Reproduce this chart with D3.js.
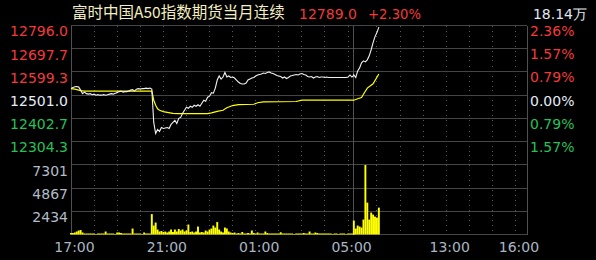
<!DOCTYPE html>
<html><head><meta charset="utf-8">
<script src="https://cdn.jsdelivr.net/npm/d3@7/dist/d3.min.js"></script>
<style>html,body{margin:0;padding:0;background:#000;}svg{display:block;}</style>
</head><body>
<svg id="chart" width="596" height="260"></svg>
<script>
// ---------------- data ----------------
const titleText = "富时中国A50指数期货当月连续";
const lastPrice = "12789.0";
const lastChange = "+2.30%";
const totalVolume = "18.14万";
const prevClose = 12501.0;

const priceTicks = [12796.0, 12697.7, 12599.3, 12501.0, 12402.7, 12304.3];
const priceFloor = 12206.0;
const pctTicks = ["2.36%", "1.57%", "0.79%", "0.00%", "0.79%", "1.57%"];
const volumeTicks = [7301, 4867, 2434];
const volumeMax = 7301;
const timeLabels = ["17:00", "21:00", "01:00", "05:00", "13:00", "16:00"];
const gridHours = ["18:00","19:00","20:00","21:00","22:00","23:00","00:00","01:00","02:00","03:00","04:00","05:00",
                   "10:00","11:00","12:00","13:00","14:00","15:00","16:00"];
const sessionBreak = "05:15";

// 5-minute samples, night session from 17:00, day session from 09:00
const nightPrices = [
12528.8,12533.1,12536.5,12537.3,12535.2,12522.4,12507.4,12513.8,12507.4,12505.3,
12507.4,12503.1,12505.3,12501.0,12503.1,12501.0,12501.0,12503.1,12501.0,12503.1,
12505.3,12507.4,12505.3,12509.5,12511.7,12516.0,12518.1,12513.8,12516.0,12516.0,
12518.1,12522.4,12524.5,12518.1,12526.6,12528.8,12526.6,12528.8,12528.8,12530.9,
12528.8,12530.9,12526.6,12385.6,12338.6,12355.7,12347.1,12364.2,12360.0,12362.1,
12364.2,12360.0,12377.1,12385.6,12394.1,12381.3,12402.7,12407.0,12424.1,12436.9,
12449.7,12445.4,12454.0,12449.7,12458.3,12454.0,12460.4,12454.0,12466.8,12479.6,
12475.4,12492.5,12496.7,12511.7,12509.5,12530.9,12565.1,12582.2,12569.4,12577.9,
12597.2,12577.9,12582.2,12575.8,12577.9,12573.7,12565.1,12556.6,12550.2,12548.0,
12548.0,12552.3,12565.1,12569.4,12573.7,12575.8,12582.2,12586.5,12588.6,12590.8,
12595.0,12592.9,12597.2,12599.3,12595.0,12592.9,12588.6,12584.3,12582.2,12580.1,
12573.7,12577.9,12571.5,12575.8,12582.2,12584.3,12586.5,12588.6,12586.5,12590.8,
12592.9,12588.6,12586.5,12580.1,12577.9,12580.1,12573.7,12577.9,12580.1,12575.8,
12577.9,12577.9,12575.8,12577.9,12575.8,12575.8,12575.8,12575.8,12575.8,12575.8,
12575.8,12575.8,12575.8,12575.8,12577.9,12586.5,12577.9,12584.3
];
const dayPrices = [
12586.5,12575.8,12603.6,12616.4,12637.8,12646.3,12642.0,12650.6,12667.7,12693.3,
12723.2,12748.9,12766.0,12789.0
];
const nightVolumes = [
156,156,209,313,417,469,209,104,104,104,
104,104,104,52,104,104,104,104,313,104,
104,104,104,52,209,209,156,104,104,104,
104,104,626,104,104,104,104,52,209,104,
104,104,2138,939,1252,522,313,365,261,313,
209,313,522,261,522,313,574,417,522,313,
417,1043,261,313,209,313,834,209,261,209,
417,313,522,626,939,730,1304,522,313,209,
730,626,313,209,156,209,104,156,104,261,
104,104,156,104,417,156,104,209,104,104,
104,313,156,104,104,104,104,104,104,235,
104,104,104,104,104,104,52,104,104,104,
104,156,104,104,313,104,104,209,156,104,
104,104,104,104,104,104,52,104,104,52,
104,104,104,52,104,104,104,104
];
const dayVolumes = [1460,626,939,834,730,1565,7280,3338,1565,2295,2086,1877,1773,2816];

const avgTimes = ["17:00","17:10","17:25","17:35","20:30","20:35","20:40","20:45","20:50","21:00",
                  "21:10","21:25","21:40","22:55","23:05","23:20","23:35","23:45","00:00","00:15",
                  "00:55","01:05","01:20","02:45","03:00","05:15","09:00","09:10","09:20","09:25",
                  "09:35","09:50","10:05"];
const avgPrices = [12528.8,12526.6,12520.2,12518.1,12518.1,12479.6,12458.3,12443.3,12436.9,12431.3,
                   12428.3,12424.1,12422.8,12422.8,12426.2,12432.6,12436.9,12447.6,12457.0,12461.0,
                   12462.5,12469.0,12472.4,12474.1,12479.6,12479.6,12479.6,12486.0,12491.0,12505.0,
                   12530.9,12549.0,12590.8];

(function () {
// ---------------- helpers ----------------
const NIGHT_LEN = 735, TOTAL_LEN = 1185, STEP = 5;
function sessionMinute(t) {
  const [h, m] = t.split(":").map(Number);
  if (h >= 17) return (h - 17) * 60 + m;
  if (h < 6) return (h + 7) * 60 + m;
  return NIGHT_LEN + (h - 9) * 60 + m;
}

const night = nightPrices.map((p, i) => ({m: i * STEP, p, v: nightVolumes[i]}));
const day = dayPrices.map((p, j) => ({m: NIGHT_LEN + j * STEP, p, v: dayVolumes[j]}));
const series = night.concat(day);
const avgSeries = avgTimes.map((t, i) => ({m: sessionMinute(t), p: avgPrices[i]}));

// ---------------- layout ----------------
const PL = 71, PR = 527, PT = 25.5, PB = 234.5;
const priceBottom = PT + (PB - PT) * 6 / 9;

const svg = d3.select("#chart");
svg.append("rect").attr("width", 596).attr("height", 260).attr("fill", "#000");

const x = d3.scaleLinear().domain([0, TOTAL_LEN]).range([PL, PR]);
const y = d3.scaleLinear().domain([priceFloor, priceTicks[0]]).range([priceBottom, PT]);
const yv = d3.scaleLinear().domain([0, volumeMax]).range([PB, priceBottom]);
const crisp = v => Math.floor(v) + 0.5;

const RED = "#f23a3a", GREEN = "#25c25a", WHITE = "#e4ecf6", GREY = "#b2bdc8";
const gridColor = "#454545";

// vertical dotted grid
const g = svg.append("g");
g.selectAll("line.vd").data(gridHours).enter().append("line")
  .attr("x1", d => crisp(x(sessionMinute(d)))).attr("x2", d => crisp(x(sessionMinute(d))))
  .attr("y1", PT).attr("y2", PB)
  .attr("stroke", "#5a5a5a").attr("stroke-width", 1).attr("stroke-dasharray", "1,4")
  .attr("shape-rendering", "crispEdges");

// horizontal solid grid
const hLines = priceTicks.map(t => y(t)).concat([y(priceFloor)])
  .concat(volumeTicks.slice(1).map(v => yv(v))).concat([yv(0)]);
g.selectAll("line.h").data(hLines).enter().append("line")
  .attr("x1", PL).attr("x2", PR)
  .attr("y1", d => crisp(d)).attr("y2", d => crisp(d))
  .attr("stroke", gridColor).attr("stroke-width", 1).attr("shape-rendering", "crispEdges");

// frame verticals + session break
[PL, PR, x(sessionMinute(sessionBreak))].forEach(px => {
  g.append("line").attr("x1", crisp(px)).attr("x2", crisp(px)).attr("y1", PT).attr("y2", PB)
    .attr("stroke", "#505050").attr("stroke-width", 1).attr("shape-rendering", "crispEdges");
});

// volume bars
const bw = x(STEP) - x(0);
svg.append("g").selectAll("rect").data(series).enter().append("rect")
  .attr("x", d => x(d.m) - bw / 2).attr("width", bw)
  .attr("y", d => yv(d.v)).attr("height", d => yv(0) - yv(d.v))
  .attr("fill", "#ffff00");

// average line
svg.append("path").datum(avgSeries)
  .attr("d", d3.line().x(d => x(d.m)).y(d => y(d.p)))
  .attr("fill", "none").attr("stroke", "#ffff00").attr("stroke-width", 1.2);

// price line
svg.append("path").datum(series)
  .attr("d", d3.line().x(d => x(d.m)).y(d => y(d.p)))
  .attr("fill", "none").attr("stroke", "#f2f2f2").attr("stroke-width", 1.1);

// left price labels
const font = "'DejaVu Sans', sans-serif";
const colorFor = t => t > prevClose ? RED : (t < prevClose ? GREEN : WHITE);
svg.append("g").selectAll("text").data(priceTicks).enter().append("text")
  .attr("x", 68).attr("y", d => y(d) + 10.8).attr("text-anchor", "end")
  .attr("font-family", font).attr("font-size", 14).attr("fill", d => colorFor(d))
  .text(d => d.toFixed(1));

// right pct labels
svg.append("g").selectAll("text").data(pctTicks).enter().append("text")
  .attr("x", 530).attr("y", (d, i) => y(priceTicks[i]) + 10.5).attr("text-anchor", "start")
  .attr("font-family", font).attr("font-size", 14).attr("fill", (d, i) => colorFor(priceTicks[i]))
  .text(d => d);

// volume labels
svg.append("g").selectAll("text").data(volumeTicks).enter().append("text")
  .attr("x", 68).attr("y", d => yv(d) + 11).attr("text-anchor", "end")
  .attr("font-family", font).attr("font-size", 14).attr("fill", GREY)
  .text(d => d);

// time labels
svg.append("g").selectAll("text").data(timeLabels).enter().append("text")
  .attr("x", d => x(sessionMinute(d)) + 3.5).attr("y", 251.5).attr("text-anchor", "middle")
  .attr("font-family", font).attr("font-size", 14).attr("fill", "#a9b6c3")
  .text(d => d);

// header
svg.append("text").attr("x", 72).attr("y", 18).attr("font-family", "'Noto Sans CJK SC', sans-serif")
  .attr("font-size", 15.5).attr("fill", "#f3efc0").text(titleText);
svg.append("text").attr("x", 299).attr("y", 18.5).attr("font-family", font)
  .attr("font-size", 14).attr("fill", RED).text(lastPrice);
svg.append("text").attr("x", 368).attr("y", 18.5).attr("font-family", font)
  .attr("font-size", 13.2).attr("fill", RED).text(lastChange);
svg.append("text").attr("x", 587).attr("y", 18.5).attr("text-anchor", "end").attr("font-family", font)
  .attr("font-size", 14).attr("fill", "#e0e8f0").text(totalVolume);
})();
</script>
</body></html>
